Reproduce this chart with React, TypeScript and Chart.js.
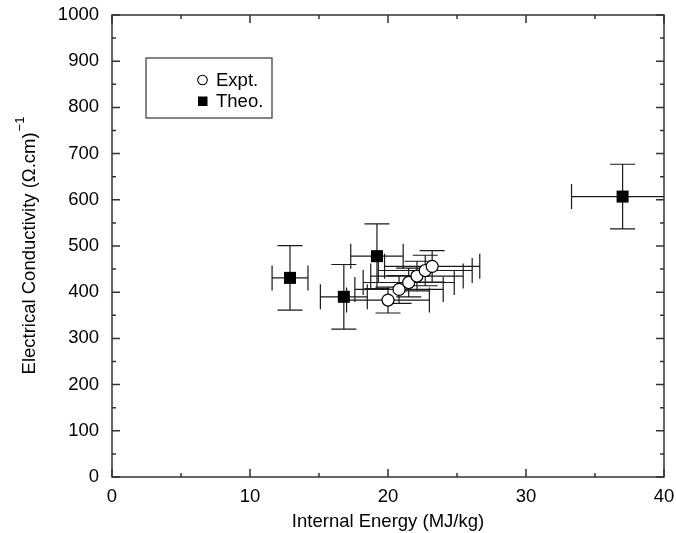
import React, { useEffect, useRef } from "react";
import { Chart, registerables } from "chart.js";

Chart.register(...registerables);

// ---- Data ----
const seriesLabels = ["Expt.", "Theo."];

const exptX = [20.0, 20.8, 21.5, 22.1, 22.7, 23.2];
const exptY = [383, 406, 421, 435, 447, 456];
const exptXErr = [3.0, 3.2, 3.3, 3.35, 3.4, 3.45];
const exptYErr = [28, 30, 31, 32, 33, 34];

const theoX = [12.9, 16.8, 19.2, 37.0];
const theoY = [431, 390, 478, 607];
const theoXErr = [1.3, 1.7, 1.9, 3.7];
const theoYErr = [70, 70, 70, 70];

const xTicks = [0, 10, 20, 30, 40];
const xMinorTicks = [5, 15, 25, 35];
const yTicks = [0, 100, 200, 300, 400, 500, 600, 700, 800, 900, 1000];
const yMinorTicks = [50, 150, 250, 350, 450, 550, 650, 750, 850, 950];

const xTitle = "Internal Energy (MJ/kg)";
const yTitle = "Electrical Conductivity (\u03A9.cm)";
const yTitleSup = "\u22121";

const FONT = '"Liberation Sans", Arial, Helvetica, sans-serif';
const FS = 18.5;

function build(xs: number[], ys: number[], xe: number[], ye: number[]) {
  return xs.map((x, i) => ({ x, y: ys[i], xErr: xe[i], yErr: ye[i] }));
}

const framePlugin = {
  id: "frameAndErrors",
  beforeDatasetsDraw(chart: any) {
    const { ctx, chartArea } = chart;
    const xs = chart.scales.x;
    const ys = chart.scales.y;
    ctx.save();
    ctx.beginPath();
    ctx.rect(chartArea.left, chartArea.top, chartArea.right - chartArea.left, chartArea.bottom - chartArea.top);
    ctx.clip();
    ctx.strokeStyle = "#1a1a1a";
    ctx.lineWidth = 1.2;
    const cap = 12.5;
    chart.data.datasets.forEach((ds: any) => {
      ds.data.forEach((p: any) => {
        const px = xs.getPixelForValue(p.x);
        const py = ys.getPixelForValue(p.y);
        const x0 = xs.getPixelForValue(p.x - p.xErr);
        const x1 = xs.getPixelForValue(p.x + p.xErr);
        const y0 = ys.getPixelForValue(p.y - p.yErr);
        const y1 = ys.getPixelForValue(p.y + p.yErr);
        ctx.beginPath();
        ctx.moveTo(x0, py); ctx.lineTo(x1, py);
        ctx.moveTo(x0, py - cap); ctx.lineTo(x0, py + cap);
        ctx.moveTo(x1, py - cap); ctx.lineTo(x1, py + cap);
        ctx.moveTo(px, y0); ctx.lineTo(px, y1);
        ctx.moveTo(px - cap, y0); ctx.lineTo(px + cap, y0);
        ctx.moveTo(px - cap, y1); ctx.lineTo(px + cap, y1);
        ctx.stroke();
      });
    });
    ctx.restore();
  },
  afterDraw(chart: any) {
    const { ctx, chartArea } = chart;
    const { left, right, top, bottom } = chartArea;
    const xs = chart.scales.x;
    const ys = chart.scales.y;
    ctx.save();
    ctx.strokeStyle = "#333";
    ctx.lineWidth = 1.5;
    ctx.strokeRect(left, top, right - left, bottom - top);
    ctx.beginPath();
    const major = 8, minor = 4;
    xTicks.forEach((v) => {
      const p = xs.getPixelForValue(v);
      ctx.moveTo(p, bottom); ctx.lineTo(p, bottom - major);
      ctx.moveTo(p, top); ctx.lineTo(p, top + major);
    });
    xMinorTicks.forEach((v) => {
      const p = xs.getPixelForValue(v);
      ctx.moveTo(p, bottom); ctx.lineTo(p, bottom - minor);
      ctx.moveTo(p, top); ctx.lineTo(p, top + minor);
    });
    yTicks.forEach((v) => {
      const p = ys.getPixelForValue(v);
      ctx.moveTo(left, p); ctx.lineTo(left + major, p);
      ctx.moveTo(right, p); ctx.lineTo(right - major, p);
    });
    yMinorTicks.forEach((v) => {
      const p = ys.getPixelForValue(v);
      ctx.moveTo(left, p); ctx.lineTo(left + minor, p);
      ctx.moveTo(right, p); ctx.lineTo(right - minor, p);
    });
    ctx.stroke();

    // axis titles
    ctx.fillStyle = "#000";
    ctx.font = `${FS}px ${FONT}`;
    ctx.textAlign = "center";
    ctx.textBaseline = "middle";
    ctx.fillText(xTitle, (left + right) / 2, 522);

    ctx.save();
    ctx.translate(30, (top + bottom) / 2);
    ctx.rotate(-Math.PI / 2);
    ctx.font = `${FS}px ${FONT}`;
    const w = ctx.measureText(yTitle).width;
    ctx.font = `13px ${FONT}`;
    const ws = ctx.measureText(yTitleSup).width;
    const start = -(w + ws) / 2;
    ctx.textAlign = "left";
    ctx.font = `${FS}px ${FONT}`;
    ctx.fillText(yTitle, start, 0);
    ctx.font = `13px ${FONT}`;
    ctx.fillText(yTitleSup, start + w + 1, -10);
    ctx.restore();

    // legend
    const lx = 146, ly = 58, lw = 126, lh = 60;
    ctx.fillStyle = "#fff";
    ctx.fillRect(lx, ly, lw, lh);
    ctx.strokeStyle = "#333";
    ctx.lineWidth = 1.2;
    ctx.strokeRect(lx, ly, lw, lh);
    ctx.font = `${FS}px ${FONT}`;
    ctx.textAlign = "left";
    ctx.textBaseline = "middle";
    ctx.beginPath();
    ctx.arc(202.5, 80, 4.8, 0, Math.PI * 2);
    ctx.fillStyle = "#fff";
    ctx.fill();
    ctx.strokeStyle = "#000";
    ctx.lineWidth = 1.1;
    ctx.stroke();
    ctx.fillStyle = "#000";
    ctx.fillText(seriesLabels[0], 216, 81);
    ctx.fillRect(198, 96.5, 9.5, 9.5);
    ctx.fillText(seriesLabels[1], 216, 102);
    ctx.restore();
  },
};

export default function App() {
  const ref = useRef<HTMLCanvasElement | null>(null);
  useEffect(() => {
    if (!ref.current) return;
    const chart = new Chart(ref.current, {
      type: "scatter",
      data: {
        datasets: [
          {
            label: seriesLabels[0],
            data: build(exptX, exptY, exptXErr, exptYErr) as any,
            pointStyle: "circle",
            pointRadius: 6,
            pointBackgroundColor: "#fff",
            pointBorderColor: "#000",
            pointBorderWidth: 1.2,
          },
          {
            label: seriesLabels[1],
            data: build(theoX, theoY, theoXErr, theoYErr) as any,
            pointStyle: "rect",
            pointRadius: 8.5,
            pointBackgroundColor: "#000",
            pointBorderColor: "#000",
            pointBorderWidth: 0,
          },
        ],
      },
      options: {
        animation: false,
        responsive: false,
        maintainAspectRatio: false,
        layout: { padding: { left: 0, right: 12, top: 15, bottom: 0 } },
        plugins: { legend: { display: false }, tooltip: { enabled: false } },
        scales: {
          x: {
            type: "linear",
            min: 0,
            max: 40,
            afterFit: (s: any) => { s.height = 56; s.paddingLeft = 0; s.paddingRight = 0; },
            afterBuildTicks: (s: any) => { s.ticks = xTicks.map((v) => ({ value: v })); },
            grid: { display: false, drawTicks: false },
            border: { display: false },
            ticks: { padding: 9, color: "#000", font: { family: FONT, size: FS }, maxRotation: 0, callback: (v: any) => String(v) },
          },
          y: {
            type: "linear",
            min: 0,
            max: 1000,
            afterFit: (s: any) => { s.width = 112; s.paddingTop = 0; s.paddingBottom = 0; },
            afterBuildTicks: (s: any) => { s.ticks = yTicks.map((v) => ({ value: v })); },
            grid: { display: false, drawTicks: false },
            border: { display: false },
            ticks: { padding: 13, color: "#000", font: { family: FONT, size: FS }, callback: (v: any) => String(v) },
          },
        },
      },
      plugins: [framePlugin],
    });
    return () => chart.destroy();
  }, []);
  return (
    <div style={{ position: "absolute", left: 0, top: 0, width: 676, height: 533, background: "#fff" }}>
      <canvas ref={ref} width={676} height={533} style={{ display: "block", width: 676, height: 533 }} />
    </div>
  );
}
